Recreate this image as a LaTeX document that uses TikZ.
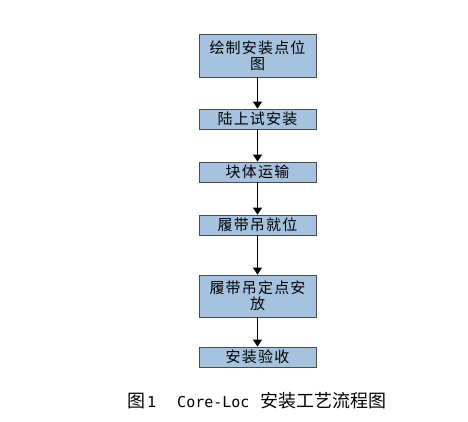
\documentclass[tikz,border=0pt]{standalone}
\usepackage{fontspec}
\setmainfont{Liberation Serif}
\newfontfamily\cjkbox[LetterSpace=8]{Noto Sans CJK SC}
\newfontfamily\cjkcap{Noto Sans CJK SC}
\newfontfamily\monocap{DejaVu Sans Mono}
\usetikzlibrary{arrows.meta,positioning}
\definecolor{boxfill}{HTML}{A5C3DF}
\definecolor{boxline}{HTML}{4A4A4A}
\tikzset{
  flowbox/.style={draw=boxline, line width=0.8pt, fill=boxfill, minimum width=117pt,
    inner sep=0pt, align=center, font=\cjkbox\fontsize{15}{16.5}\selectfont},
  flowarrow/.style={draw=black, line width=0.9pt, -{Triangle[width=9pt,length=7pt]}}
}
\begin{document}
\begin{tikzpicture}[x=1pt,y=-1pt]
\useasboundingbox (0,0) rectangle (468,421);
\node[flowbox, minimum height=43pt] (b1) at (257.5,55.5) {绘制安装点位\\图};
\node[flowbox, minimum height=20pt] (b2) at (257.5,119) {陆上试安装};
\node[flowbox, minimum height=20pt] (b3) at (257.5,172) {块体运输};
\node[flowbox, minimum height=20pt] (b4) at (257.5,225) {履带吊就位};
\node[flowbox, minimum height=42pt] (b5) at (257.5,296) {履带吊定点安\\放};
\node[flowbox, minimum height=20pt] (b6) at (257.5,357) {安装验收};
\draw[flowarrow] (b1) -- (b2);
\draw[flowarrow] (b2) -- (b3);
\draw[flowarrow] (b3) -- (b4);
\draw[flowarrow] (b4) -- (b5);
\draw[flowarrow] (b5) -- (b6);
\node[anchor=base west, inner sep=0pt] (cap) at (127,407)
  {\cjkcap\fontsize{18}{20}\selectfont 图\hspace{2pt}\monocap\fontsize{15}{18}\selectfont 1\hspace{21pt}Core-Loc\hspace{11pt}\cjkcap\fontsize{18}{20}\selectfont 安装工艺流程图};
\end{tikzpicture}
\end{document}
